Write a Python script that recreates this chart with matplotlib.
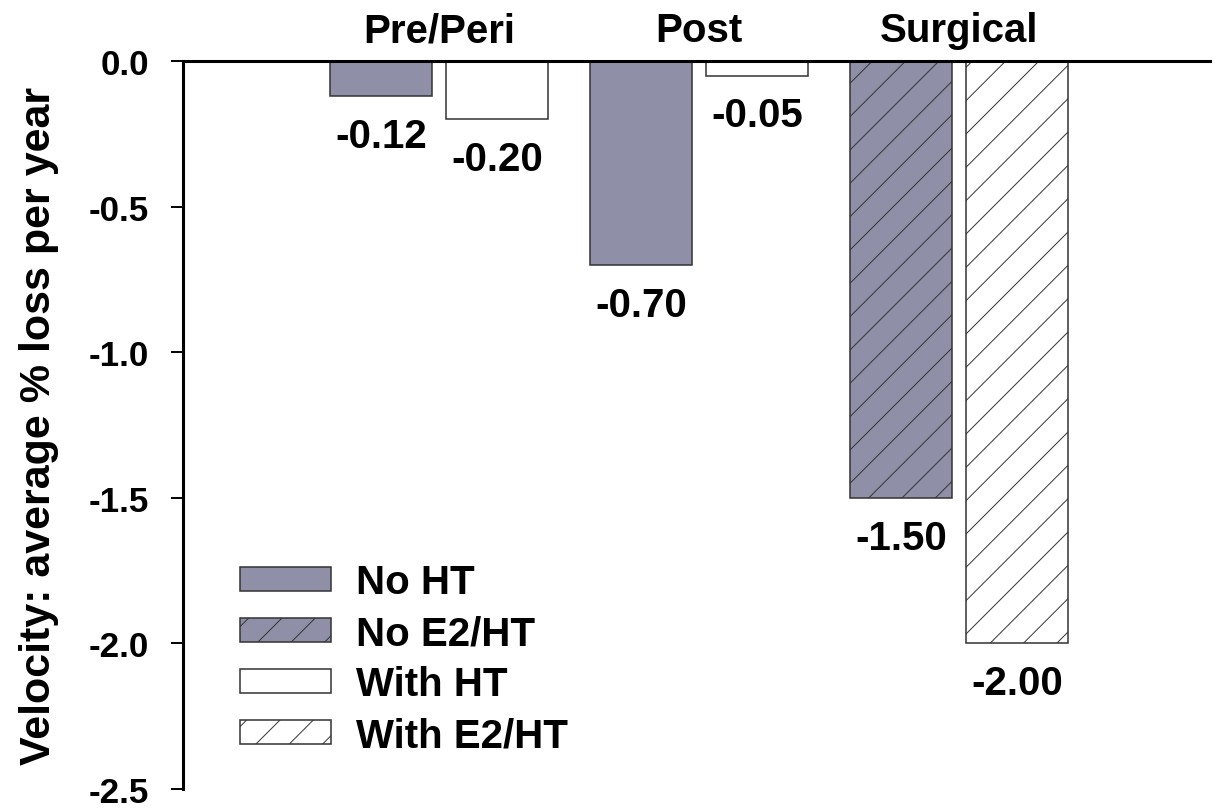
import numpy as np
import matplotlib
matplotlib.use("Agg")
import matplotlib.pyplot as plt
from matplotlib.patches import Patch

plt.rcParams["font.family"] = ["Liberation Sans", "DejaVu Sans"]
plt.rcParams["font.weight"] = "bold"
plt.rcParams["hatch.linewidth"] = 0.35

# data
categories = ["Pre/Peri", "Post", "Surgical"]
no_ht = [-0.12, -0.70, -1.50]
with_ht = [-0.20, -0.05, -2.00]
hatched = [False, False, True]
legend_labels = ["No HT", "No E2/HT", "With HT", "With E2/HT"]
yticks = [0.0, -0.5, -1.0, -1.5, -2.0, -2.5]

gray = "#8F90A8"
edge = "#333333"
fs = 14.5      # labels, legend, values
fs_tick = 12.6
fs_ylab = 15.5

fig = plt.figure(figsize=(6.125, 4.06), dpi=200)
ax = fig.add_axes([183/1225, 1-790/812, 1027/1225, 728/812])

x = np.arange(len(categories))
w = 0.392
off = 0.223
for i in range(len(categories)):
    h = "//" if hatched[i] else None
    ax.bar(x[i]-off, no_ht[i], w, color=gray, edgecolor=edge, lw=0.55, hatch=h)
    ax.bar(x[i]+off, with_ht[i], w, color="white", edgecolor=edge, lw=0.55, hatch=h)
    for xx, v in [(x[i]-off, no_ht[i]), (x[i]+off, with_ht[i])]:
        ax.annotate("%.2f" % v, (xx, v), xytext=(0, -7.5), textcoords="offset points",
                    ha="center", va="top", fontsize=fs, fontweight="bold")

ax.set_xlim(-0.985, 2.965)
ax.set_ylim(-2.5, 0)
ax.set_yticks(yticks)
ax.set_yticklabels(["%.1f" % t for t in yticks])
ax.xaxis.tick_top()
ax.set_xticks(x)
ax.set_xticklabels(categories, fontsize=fs, fontweight="bold")
ax.tick_params(axis="x", length=0, pad=4.3)
ax.tick_params(axis="y", direction="out", length=4.3, width=0.7, pad=8, labelsize=fs_tick)

for s in ["bottom", "right"]:
    ax.spines[s].set_visible(False)
ax.spines["left"].set_linewidth(1.1)
ax.spines["top"].set_linewidth(1.1)

ax.set_ylabel("Velocity: average % loss per year", fontsize=fs_ylab, fontweight="bold")
ax.yaxis.set_label_coords(-0.121, 0.5)

handles = [Patch(facecolor=gray, edgecolor=edge, lw=0.55),
           Patch(facecolor=gray, edgecolor=edge, lw=0.55, hatch="//"),
           Patch(facecolor="white", edgecolor=edge, lw=0.55),
           Patch(facecolor="white", edgecolor=edge, lw=0.55, hatch="//")]
fig.legend(handles, legend_labels, loc="upper left", bbox_to_anchor=(240/1225, 1-564/812),
           frameon=False, borderpad=0, borderaxespad=0, handlelength=2.25, handleheight=0.55,
           labelspacing=0.325, handletextpad=0.62, prop={"size": fs, "weight": "bold"})

fig.savefig("out.png", dpi=200)
